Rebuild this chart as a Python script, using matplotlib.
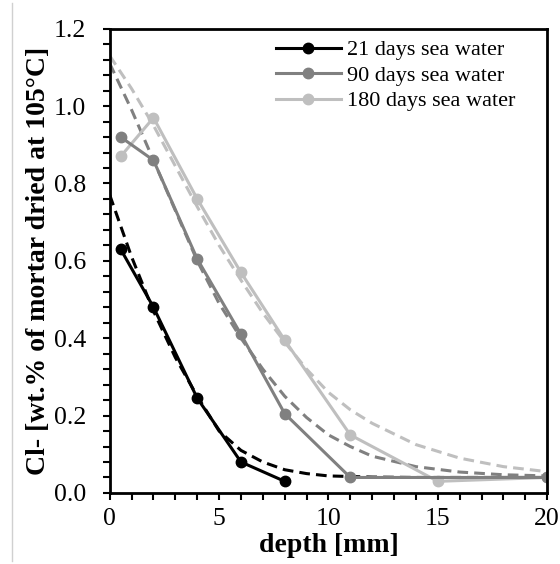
import numpy as np
import matplotlib.pyplot as plt
from matplotlib.ticker import MultipleLocator
from matplotlib.lines import Line2D

plt.rcParams['font.family'] = ['Liberation Serif', 'DejaVu Serif']

# measured profiles
labels = ['21 days sea water', '90 days sea water', '180 days sea water']
colors = ['#000000', '#808080', '#bfbfbf']

x21 = [0.5, 2, 4, 6, 8]
y21 = [0.63, 0.48, 0.245, 0.08, 0.03]
x90 = [0.5, 2, 4, 6, 8, 11, 20]
y90 = [0.92, 0.86, 0.605, 0.41, 0.205, 0.04, 0.04]
x180 = [0.5, 2, 4, 6, 8, 11, 15, 20]
y180 = [0.87, 0.97, 0.76, 0.57, 0.395, 0.15, 0.03, 0.04]

# fitted curves (dashed)
fx21 = [0, 0.5, 1, 2, 3, 4, 5, 6, 7, 8, 9, 10, 12, 14, 20]
fy21 = [0.77, 0.69, 0.61, 0.47, 0.35, 0.25, 0.16, 0.11, 0.08, 0.06, 0.05, 0.044, 0.041, 0.04, 0.04]
fx90 = [0, 1, 2, 3, 4, 5, 6, 7, 8, 9, 10, 11, 12, 14, 16, 18, 20]
fy90 = [1.11, 0.99, 0.86, 0.73, 0.60, 0.49, 0.40, 0.32, 0.25, 0.195, 0.15, 0.12, 0.095, 0.068, 0.054, 0.047, 0.044]
fx180 = [0, 1, 2, 3, 4, 5, 6, 7, 8, 9, 10, 11, 12, 14, 16, 18, 20]
fy180 = [1.13, 1.045, 0.95, 0.845, 0.74, 0.64, 0.55, 0.465, 0.39, 0.32, 0.26, 0.215, 0.18, 0.125, 0.09, 0.068, 0.055]

fig = plt.figure(figsize=(5.6, 5.64), dpi=100)
ax = fig.add_axes([0.196, 0.126, 0.781, 0.823])

for fx, fy, c in zip([fx21, fx90, fx180], [fy21, fy90, fy180], colors):
    ax.plot(fx, fy, '--', color=c, lw=2.2, dashes=(3.5, 2))

# draw lightest first so darker ones sit on top
for x, y, c, lab in reversed(list(zip([x21, x90, x180], [y21, y90, y180], colors, labels))):
    ax.plot(x, y, '-o', color=c, lw=2.2, ms=7.5, label=lab)

ax.set_xlim(0, 20)
ax.set_ylim(0, 1.2)
ax.xaxis.set_major_locator(MultipleLocator(5))
ax.xaxis.set_minor_locator(MultipleLocator(1))
ax.yaxis.set_major_locator(MultipleLocator(0.2))
ax.yaxis.set_minor_locator(MultipleLocator(0.04))
ax.yaxis.set_major_formatter(plt.FormatStrFormatter('%.1f'))
ax.tick_params(which='both', direction='out', length=5, width=1.5, labelsize=18.5)
ax.tick_params(axis='y', which='major', pad=12)
ax.tick_params(axis='x', which='major', pad=6)
for s in ax.spines.values():
    s.set_linewidth(2)

ax.set_xlabel('depth [mm]', fontsize=20, fontweight='bold', labelpad=2)
ax.set_ylabel('Cl- [wt.% of mortar dried at 105\u00b0C]', fontsize=20, fontweight='bold', labelpad=2)

handles = [Line2D([], [], color=c, marker='o', lw=2.2, ms=7.5) for c in colors]
ax.legend(handles, labels, loc='upper right', frameon=False, fontsize=16,
          handlelength=2.95, handletextpad=0.25, labelspacing=0.22,
          borderaxespad=0.1, bbox_to_anchor=(0.952, 1.0))

fig.add_artist(Line2D([0.021, 0.021], [0.005, 0.995], color='#d0d0d0', lw=1))

fig.savefig('out.png', dpi=100)
